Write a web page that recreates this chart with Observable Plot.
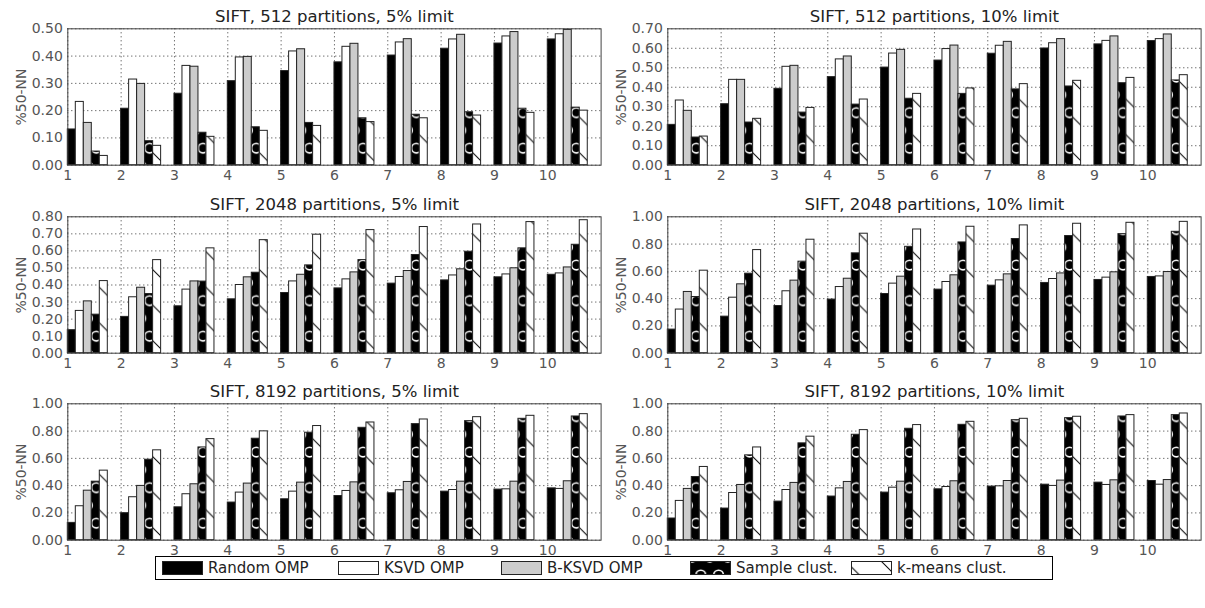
<!DOCTYPE html>
<html><head><meta charset="utf-8">
<script src="https://cdn.jsdelivr.net/npm/d3@7"></script>
<script src="https://cdn.jsdelivr.net/npm/@observablehq/plot@0.6"></script>
<style>
body{margin:0;background:#fff;font-family:"DejaVu Sans",sans-serif;}
#root{position:relative;width:1205px;height:608px;overflow:hidden;background:#fff;}
.panel{position:absolute;}
.panel svg{overflow:visible;}
</style></head><body>
<svg width="0" height="0" style="position:absolute">
  <defs>
    <pattern id="circ" patternUnits="userSpaceOnUse" x="0" y="0" width="17.78" height="35.56">
      <rect width="17.78" height="35.56" fill="#000"/>
      <circle cx="7.4" cy="6" r="4.8" fill="none" stroke="#fff" stroke-width="1.6"/>
      <circle cx="-1.49" cy="23.78" r="4.8" fill="none" stroke="#fff" stroke-width="1.6"/>
      <circle cx="16.29" cy="23.78" r="4.8" fill="none" stroke="#fff" stroke-width="1.6"/>
      <circle cx="7.4" cy="41.56" r="4.8" fill="none" stroke="#fff" stroke-width="1.6"/>
      <circle cx="-1.49" cy="-11.78" r="4.8" fill="none" stroke="#fff" stroke-width="1.6"/>
      <circle cx="16.29" cy="-11.78" r="4.8" fill="none" stroke="#fff" stroke-width="1.6"/>
    </pattern>
    <pattern id="diag" patternUnits="userSpaceOnUse" x="0" y="0" width="35.56" height="35.56">
      <rect width="35.56" height="35.56" fill="#fff"/>
      <path d="M0,0L35.56,35.56M34.56,-1L36.56,1M-1,34.56L1,36.56" stroke="#000" stroke-width="1"/>
    </pattern>
  </defs>
</svg>
<div id="root"></div>
<script>
const groups = [1, 2, 3, 4, 5, 6, 7, 8, 9, 10];
const series = ["Random OMP", "KSVD OMP", "B-KSVD OMP", "Sample clust.", "k-means clust."];
const titles = [
  "SIFT, 512 partitions, 5% limit", "SIFT, 512 partitions, 10% limit",
  "SIFT, 2048 partitions, 5% limit", "SIFT, 2048 partitions, 10% limit",
  "SIFT, 8192 partitions, 5% limit", "SIFT, 8192 partitions, 10% limit"
];
const yMaxes = [0.5, 0.7, 0.8, 1.0, 1.0, 1.0];
const yTickSteps = [0.1, 0.1, 0.1, 0.2, 0.2, 0.2];

// rows: Random OMP, KSVD OMP, B-KSVD OMP, Sample clust., k-means clust.
const sift512_5 = [
  [0.131, 0.207, 0.262, 0.308, 0.345, 0.377, 0.402, 0.427, 0.446, 0.461],
  [0.232, 0.314, 0.364, 0.395, 0.417, 0.434, 0.450, 0.461, 0.472, 0.480],
  [0.155, 0.298, 0.361, 0.397, 0.425, 0.445, 0.462, 0.478, 0.488, 0.496],
  [0.050, 0.088, 0.119, 0.139, 0.155, 0.172, 0.185, 0.194, 0.207, 0.211],
  [0.034, 0.071, 0.104, 0.126, 0.144, 0.158, 0.172, 0.182, 0.192, 0.200]
];
const sift512_10 = [
  [0.207, 0.313, 0.392, 0.452, 0.501, 0.537, 0.572, 0.599, 0.620, 0.637],
  [0.332, 0.438, 0.505, 0.543, 0.573, 0.596, 0.613, 0.626, 0.638, 0.647],
  [0.279, 0.438, 0.510, 0.558, 0.592, 0.614, 0.633, 0.647, 0.661, 0.671],
  [0.142, 0.219, 0.270, 0.311, 0.341, 0.366, 0.389, 0.404, 0.421, 0.435],
  [0.147, 0.238, 0.294, 0.337, 0.366, 0.394, 0.416, 0.433, 0.448, 0.462]
];
const sift2048_5 = [
  [0.135, 0.213, 0.275, 0.316, 0.353, 0.380, 0.408, 0.427, 0.445, 0.460],
  [0.248, 0.328, 0.373, 0.400, 0.421, 0.433, 0.447, 0.456, 0.462, 0.468],
  [0.304, 0.384, 0.421, 0.445, 0.460, 0.474, 0.482, 0.492, 0.498, 0.503],
  [0.226, 0.347, 0.420, 0.472, 0.515, 0.546, 0.576, 0.595, 0.615, 0.636],
  [0.423, 0.546, 0.615, 0.663, 0.695, 0.722, 0.740, 0.755, 0.769, 0.780]
];
const sift2048_10 = [
  [0.173, 0.268, 0.346, 0.393, 0.434, 0.466, 0.495, 0.515, 0.537, 0.559],
  [0.320, 0.407, 0.454, 0.485, 0.510, 0.522, 0.534, 0.544, 0.554, 0.563],
  [0.449, 0.505, 0.532, 0.546, 0.561, 0.571, 0.578, 0.585, 0.593, 0.595],
  [0.412, 0.583, 0.671, 0.732, 0.780, 0.812, 0.837, 0.859, 0.873, 0.890],
  [0.605, 0.756, 0.832, 0.876, 0.907, 0.927, 0.937, 0.949, 0.956, 0.963]
];
const sift8192_5 = [
  [0.127, 0.198, 0.241, 0.276, 0.300, 0.324, 0.344, 0.356, 0.371, 0.380],
  [0.249, 0.315, 0.337, 0.349, 0.356, 0.361, 0.366, 0.368, 0.373, 0.376],
  [0.363, 0.398, 0.410, 0.415, 0.422, 0.424, 0.427, 0.429, 0.429, 0.432],
  [0.429, 0.590, 0.680, 0.744, 0.788, 0.824, 0.851, 0.873, 0.890, 0.907],
  [0.510, 0.659, 0.741, 0.798, 0.837, 0.863, 0.885, 0.902, 0.912, 0.924]
];
const sift8192_10 = [
  [0.159, 0.232, 0.283, 0.320, 0.349, 0.373, 0.393, 0.407, 0.422, 0.434],
  [0.288, 0.346, 0.368, 0.380, 0.385, 0.390, 0.395, 0.398, 0.405, 0.407],
  [0.376, 0.405, 0.420, 0.427, 0.429, 0.432, 0.434, 0.437, 0.439, 0.441],
  [0.463, 0.622, 0.710, 0.773, 0.817, 0.846, 0.880, 0.895, 0.907, 0.917],
  [0.537, 0.680, 0.759, 0.807, 0.844, 0.868, 0.890, 0.905, 0.917, 0.929]
];
const panelData = [sift512_5, sift512_10, sift2048_5, sift2048_10, sift8192_5, sift8192_10];

const fills = ["#000000", "#ffffff", "#cccccc", "url(#circ)", "url(#diag)"];
const barW = 0.15;
const root = document.getElementById("root");

panelData.forEach((pd, i) => {
  const col = i % 2, row = Math.floor(i / 2);
  const yMax = yMaxes[i], step = yTickSteps[i];
  const yTicks = d3.range(0, Math.round(yMax / step) + 1).map(k => +(k * step).toFixed(2));
  const marks = [
    Plot.gridX(groups, {stroke: "#222", strokeOpacity: 0.9, strokeDasharray: "1,3"}),
    Plot.gridY(yTicks, {stroke: "#222", strokeOpacity: 0.9, strokeDasharray: "1,3"})
  ];
  pd.forEach((vals, s) => {
    const rows = vals.map((v, g) => ({group: groups[g], value: v}));
    marks.push(Plot.rectY(rows, {
      x1: d => d.group + s * barW,
      x2: d => d.group + (s + 1) * barW,
      y1: 0, y2: "value",
      fill: fills[s], stroke: "#222", strokeWidth: 1
    }));
  });
  marks.push(
    Plot.frame({stroke: "#444", strokeWidth: 1}),
    Plot.axisX(groups, {tickSize: 0, tickPadding: 5, fontSize: 14, fill: "#555", label: null}),
    Plot.axisY(yTicks, {tickSize: 0, tickPadding: 5, fontSize: 14, fill: "#555",
      tickFormat: d => d.toFixed(2), label: "%50-NN", labelAnchor: "center",
      labelArrow: "none", labelOffset: 52}),
    Plot.text([titles[i]], {frameAnchor: "top", dy: -7, lineAnchor: "bottom",
      fontSize: 16.5, fill: "#222"})
  );
  const chart = Plot.plot({
    width: 605, height: 188,
    marginLeft: 67.3, marginRight: 4.4, marginTop: 28.3, marginBottom: 23.3,
    x: {domain: [1, 11], axis: null},
    y: {domain: [0, yMax], axis: null},
    style: {fontFamily: "DejaVu Sans", fontSize: "14px", color: "#555", background: "transparent", overflow: "visible"},
    marks
  });
  const div = document.createElement("div");
  div.className = "panel";
  div.style.left = (col * 600) + "px";
  div.style.top = (row * 187.7) + "px";
  div.appendChild(chart);
  root.appendChild(div);
});

// legend
const legendX = [162, 338, 501, 690, 851];
const leg = d3.select(root).append("svg")
  .attr("width", 1205).attr("height", 608)
  .style("position", "absolute").style("left", 0).style("top", 0).style("pointer-events", "none");
leg.append("rect").attr("x", 155.5).attr("y", 556.5).attr("width", 897).attr("height", 23)
  .attr("fill", "#fff").attr("stroke", "#000").attr("stroke-width", 1);
series.forEach((name, s) => {
  leg.append("rect").attr("x", legendX[s] + 0.5).attr("y", 561.5).attr("width", 40).attr("height", 13)
    .attr("fill", fills[s]).attr("stroke", "#222").attr("stroke-width", 1);
  leg.append("text").attr("x", legendX[s] + 46).attr("y", 573)
    .attr("font-family", "DejaVu Sans").attr("font-size", 15)
    .attr("fill", "#222")
    .text(name);
});
</script>
</body></html>
